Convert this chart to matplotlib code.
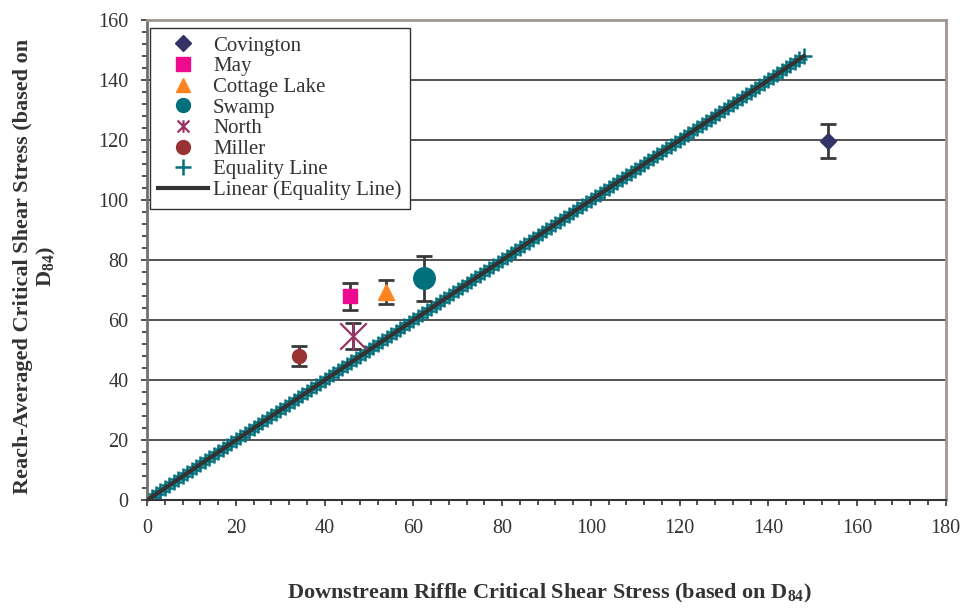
import numpy as np
import matplotlib
matplotlib.use("Agg")
from matplotlib import pyplot as plt
from matplotlib.path import Path
from matplotlib.ticker import MultipleLocator

plt.rcParams["font.family"] = ["Liberation Serif", "DejaVu Serif"]
plt.rcParams["mathtext.fontset"] = "custom"
plt.rcParams["mathtext.rm"] = "Liberation Serif"
plt.rcParams["mathtext.bf"] = "Liberation Serif:bold"

sites = ["Covington", "May", "Cottage Lake", "Swamp", "North", "Miller"]
riffle_x = [153.4, 45.8, 53.9, 62.5, 46.5, 34.2]
reach_y = [119.8, 68.0, 69.3, 73.9, 54.7, 48.0]
reach_err = [5.6, 4.5, 4.0, 7.6, 4.2, 3.3]

equality_x = np.arange(0, 149)
equality_y = equality_x

# asterisk-like marker: X with vertical bar
star_path = Path([(-1, -1), (1, 1), (-1, 1), (1, -1), (0, -1.05), (0, 1.05)],
                 [Path.MOVETO, Path.LINETO, Path.MOVETO, Path.LINETO, Path.MOVETO, Path.LINETO])

styles = [
    dict(marker="D", color="#333366", ms=8),
    dict(marker="s", color="#ee0a8c", ms=10),
    dict(marker="^", color="#ff8420", ms=11),
    dict(marker="o", color="#00707c", ms=15.5),
    dict(marker=star_path, color="#993366", ms=20, mew=1.6),
    dict(marker="o", color="#993333", ms=10),
]
legend_ms = [8, 9.5, 10, 10, 9, 10]

fig = plt.figure(figsize=(9.68, 6.10), dpi=100)
ax = fig.add_axes([0.152, 0.18, 0.825, 0.787])

ax.grid(axis="y", color="#333333", linewidth=1.2)
ax.set_axisbelow(True)

ax.plot(equality_x, equality_y, linestyle="none", marker="+", color="#00707c",
        ms=11, mew=1.8, label="Equality Line", zorder=2)
ax.plot([0, 148], [0, 148], color="#333333", linewidth=3,
        label="Linear (Equality Line)", zorder=3)

handles = []
for name, x, y, e, st in zip(sites, riffle_x, reach_y, reach_err, styles):
    ax.errorbar(x, y, yerr=e, fmt="none", ecolor="#3a3a3a", elinewidth=2,
                capsize=5.7, capthick=2, zorder=4)
    h, = ax.plot(x, y, linestyle="none", marker=st["marker"], color=st["color"],
                 ms=st["ms"], mew=st.get("mew", 1), label=name, zorder=5)
    handles.append(h)

lines = ax.get_lines()
handles = handles + [lines[0], lines[1]]

ax.set_xlim(0, 180)
ax.set_ylim(0, 160)
ax.xaxis.set_major_locator(MultipleLocator(20))
ax.xaxis.set_minor_locator(MultipleLocator(4))
ax.yaxis.set_major_locator(MultipleLocator(20))
ax.yaxis.set_minor_locator(MultipleLocator(4))
ax.tick_params(which="both", direction="out", colors="#333333", labelsize=14.5,
               labelcolor="#333333", width=1.2)
ax.tick_params(which="major", length=4.5, pad=9)
ax.tick_params(which="minor", length=3.5)

ax.spines["left"].set_color("#707070")
ax.spines["left"].set_linewidth(2)
ax.spines["bottom"].set_color("#333333")
ax.spines["bottom"].set_linewidth(1.5)
for side in ["top", "right"]:
    ax.spines[side].set_color("#a09590")
    ax.spines[side].set_linewidth(2)

ax.set_xlabel("Downstream Riffle Critical Shear Stress (based on D$_{\\mathbf{84}}$)",
              fontsize=16, fontweight="bold", color="#333333")
ax.xaxis.set_label_coords(0.504, -0.17)
ax.set_ylabel("Reach-Averaged Critical Shear Stress (based on\nD$_{\\mathbf{84}}$)",
              fontsize=16, fontweight="bold", color="#333333",
              multialignment="center", linespacing=1.15)
ax.yaxis.set_label_coords(-0.14, 0.487)
ax.yaxis.label.set_verticalalignment("center")

leg = ax.legend(handles=handles, loc="upper left", bbox_to_anchor=(0.003, 0.984),
                borderaxespad=0, fontsize=15, labelspacing=0.05, handlelength=2.4,
                handletextpad=0.25, borderpad=0.4, fancybox=False,
                edgecolor="#333333", framealpha=1, shadow=False)
leg.get_frame().set_linewidth(1)
for t in leg.get_texts():
    t.set_color("#333333")
for lh, ms in zip(leg.legend_handles[:6], legend_ms):
    lh.set_markersize(ms)

plt.savefig("out.png", dpi=100)
plt.close()
